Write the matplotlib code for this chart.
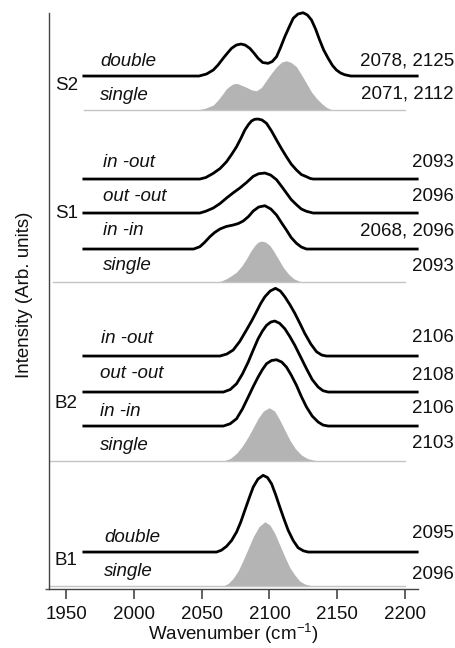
import matplotlib
matplotlib.use('Agg')
import matplotlib.pyplot as plt

plt.rcParams['font.family'] = ['Liberation Sans', 'DejaVu Sans']
plt.rcParams['mathtext.fontset'] = 'custom'
plt.rcParams['mathtext.rm'] = 'Liberation Sans'

# traces: wavenumber (cm-1) and height above the trace baseline
s2_double_w = [1963, 2048, 2053.5, 2058.5, 2062, 2065.8, 2069, 2072, 2075.5, 2078.9, 2082, 2085.5,
               2088.5, 2091.6, 2095, 2099, 2102, 2105.2, 2108, 2111.3, 2114.5, 2117.5, 2121,
               2124.8, 2128, 2131, 2134, 2137, 2140, 2143.3, 2146.5, 2149.4, 2152.5, 2155.5,
               2160, 2209]
s2_double_h = [0, 0, 2, 6, 11, 17.7, 23, 27.7, 31, 32, 31, 27.7,
               23, 17.7, 13.5, 12.7, 14.5, 19.3, 28, 39.3, 49, 57.7, 62,
               63.3, 61, 56, 47, 36, 26, 17.7, 10.5, 6, 3, 1.3,
               0, 0]
s2_single_w = [1963, 2046, 2052, 2058.5, 2062, 2065.8, 2068, 2070.7, 2073, 2075.7, 2079, 2083,
               2087, 2090.4, 2094, 2097.8, 2101.5, 2105.2, 2109, 2112.5, 2116, 2119.9, 2123.5,
               2127.3, 2131, 2134.7, 2138.5, 2142, 2145, 2147, 2200]
s2_single_h = [0, 0, 1.5, 5, 10, 16.7, 21, 24, 26, 26.7, 25, 22.7,
               20, 19.3, 22.5, 30, 37, 43.3, 48, 49.3, 47.5, 43.3, 35.5,
               26.7, 18, 11.7, 6.5, 2.7, 0.8, 0, 0]

s1_inout_w = [1963, 2048.6, 2053, 2058.5, 2063.5, 2068.3, 2072, 2075.7, 2079, 2081.8, 2084.5,
              2086.7, 2089, 2091.6, 2094.5, 2097.8, 2101.5, 2105.2, 2109, 2112.5, 2116, 2119.9,
              2123.5, 2127.3, 2130, 2132.2, 2209]
s1_inout_h = [0, 0, 1.5, 5.7, 10.5, 17.3, 24.5, 32.3, 41, 49, 54.5,
              58, 59.7, 60, 59, 55.7, 48, 39, 30, 22.3, 15, 9,
              4.5, 2.3, 0.6, 0, 0]
s1_outout_w = [1963, 2048.6, 2053, 2058.5, 2063.5, 2068.3, 2073, 2078.1, 2083, 2088, 2092,
               2096.6, 2100.8, 2105.2, 2109, 2112.5, 2116, 2119.9, 2123.5, 2127.3, 2132.2, 2209]
s1_outout_h = [0, 0, 1.8, 5, 9.5, 15, 20, 25, 30.5, 36.7, 39.3,
               40, 38, 33.3, 26.5, 20, 13.5, 8.3, 4, 1.7, 0, 0]
s1_inin_w = [1963, 2044, 2048.6, 2052, 2056, 2059.5, 2063.4, 2068, 2073.2, 2077, 2080.6, 2084.5,
             2088, 2092, 2096.6, 2101, 2105.2, 2109, 2112.5, 2116, 2119.9, 2123.5, 2127.3, 2209]
s1_inin_h = [0, 0, 2.3, 6.5, 12.3, 16.5, 20, 22.5, 24, 25.5, 28, 32.5,
             38, 42, 43.3, 40, 34, 26, 19, 11.5, 5.7, 2, 0, 0]
s1_single_w = [1940.5, 2061, 2064.5, 2068.5, 2072, 2075.7, 2079.5, 2083, 2086, 2089.2, 2091.5,
               2094, 2097, 2100.2, 2103.3, 2106.4, 2110, 2113.8, 2118, 2122.4, 2127, 2200]
s1_single_h = [0, 0, 1, 3.5, 6.5, 10, 16, 23.3, 30.5, 36.7, 39.8,
               41, 40, 36.7, 30.5, 23.3, 15, 8.3, 3.2, 0.7, 0, 0]

b2_inout_w = [1963, 2063.4, 2068.5, 2073.2, 2078, 2083, 2087, 2090.4, 2093.5, 2096.6, 2100.5,
              2104.4, 2108, 2111.3, 2115, 2118.7, 2122.5, 2126, 2130.5, 2134.7, 2138.5, 2142,
              2209]
b2_inout_h = [0, 0, 2, 6, 14.5, 26, 35.5, 44.3, 52.5, 59.3, 65,
              67.7, 65, 59.3, 51.5, 42.7, 32.5, 22.7, 12, 4.3, 1, 0,
              0]
b2_outout_w = [1963, 2066, 2071, 2075.7, 2080, 2084.3, 2088, 2091.6, 2094.8, 2097.8, 2101,
               2103.9, 2107.5, 2111.3, 2115, 2118.7, 2123, 2127.3, 2131.5, 2135.9, 2139.5,
               2143.3, 2209]
b2_outout_h = [0, 0, 2.5, 8.3, 18, 30, 42, 53.3, 61, 66.7, 70,
               71, 68.7, 63.3, 55.5, 46.7, 35, 23.3, 12.5, 5, 1.3,
               0, 0]
b2_inin_w = [1963, 2066, 2071, 2075.7, 2080, 2084.3, 2088, 2091.6, 2094.8, 2097.8, 2101.5,
             2105.2, 2109, 2112.5, 2116, 2119.9, 2123.5, 2127.3, 2131.5, 2135.9, 2139.5,
             2143.3, 2209]
b2_inin_h = [0, 0, 2.3, 7.3, 17, 29, 39.5, 49, 56.5, 62.3, 65.5,
             66.3, 64, 59, 51, 40.7, 29.5, 19, 10, 4, 1,
             0, 0]
b2_single_w = [1938, 2065.8, 2071, 2075.7, 2080, 2084.3, 2088, 2091.6, 2095.5, 2099.8, 2103.8,
               2107.6, 2111.3, 2115, 2119, 2123.6, 2128, 2132.2, 2137, 2200]
b2_single_h = [0, 0, 2.5, 7.7, 15, 24.3, 33.5, 42.7, 50, 53.3, 50,
               41, 31, 21, 12.5, 6, 2.5, 1, 0, 0]

b1_double_w = [1963, 2060.9, 2064.5, 2068.3, 2072, 2075.7, 2078.8, 2081.8, 2085, 2088, 2091.5,
               2095.3, 2098.5, 2101.5, 2104.5, 2107.6, 2110.7, 2113.8, 2117.5, 2121.1, 2125,
               2128.5, 2209]
b1_double_h = [0, 0, 1.8, 5.7, 11.5, 20, 30, 41.7, 54, 65, 73,
               76.7, 74.5, 68.3, 57.5, 45, 33, 21.7, 11.5, 4.3, 1.2,
               0, 0]
b1_single_w = [1938, 2065.8, 2069.5, 2073.2, 2077, 2080.6, 2084.3, 2088, 2092.3, 2096.6, 2100.3,
               2103.9, 2107.6, 2111.3, 2115, 2118.7, 2122.3, 2126, 2132.2, 2200]
b1_single_h = [0, 0, 2.5, 7.7, 15.5, 26, 37.5, 49.3, 59.5, 64.3, 61,
               52.7, 41, 29.3, 18.5, 11, 5, 2, 0, 0]

# baselines (arb. units)
line_traces = [(s2_double_w, s2_double_h, 513),
               (s1_inout_w, s1_inout_h, 410),
               (s1_outout_w, s1_outout_h, 376),
               (s1_inin_w, s1_inin_h, 340),
               (b2_inout_w, b2_inout_h, 233),
               (b2_outout_w, b2_outout_h, 197),
               (b2_inin_w, b2_inin_h, 163),
               (b1_double_w, b1_double_h, 37)]
fill_traces = [(s2_single_w, s2_single_h, 479),
               (s1_single_w, s1_single_h, 307),
               (b2_single_w, b2_single_h, 128),
               (b1_single_w, b1_single_h, 3)]

# text labels
trace_names = ['double', 'single',
               'in -out', 'out -out', 'in -in', 'single',
               'in -out', 'out -out', 'in -in', 'single',
               'double', 'single']
trace_name_y = [528, 494, 427, 393, 359, 324, 251, 216, 178, 144, 52, 18]
trace_name_x = [1975, 1975, 1977, 1977, 1977, 1977, 1976, 1975, 1975, 1975, 1978, 1978]
peak_labels = ['2078, 2125', '2071, 2112',
               '2093', '2096', '2068, 2096', '2093',
               '2106', '2108', '2106', '2103',
               '2095', '2096']
peak_label_y = [528, 495, 427, 393, 358, 323, 252, 214, 181, 146, 56, 15]
groups = ['S2', 'S1', 'B2', 'B1']
group_y = [504, 376, 186, 29]

fig = plt.figure(figsize=(4.56, 6.48), dpi=100)
ax = fig.add_axes([0.1081, 0.0910, 0.8086, 0.8889])

for w, h, base in fill_traces:
    y = [base + v for v in h]
    ax.fill_between(w, base, y, color='#b4b4b4', lw=0)
    ax.plot([w[0], w[-1]], [base, base], color='#c4c4c4', lw=1)

for w, h, base in line_traces:
    y = [base + v for v in h]
    ax.plot(w, y, color='black', lw=2.0, solid_joinstyle='round', clip_on=False)

fs = 13.5
for x, y, s in zip(trace_name_x, trace_name_y, trace_names):
    ax.text(x, y, s, style='italic', fontsize=fs, ha='left', va='center', color='#111111')
for y, s in zip(peak_label_y, peak_labels):
    ax.text(2236, y, s, fontsize=fs, ha='right', va='center', color='#111111')
for y, s in zip(group_y, groups):
    ax.text(1941.5, y, s, fontsize=fs, ha='left', va='center', color='#111111')

ax.set_xlim(1937.5, 2209.6)
ax.set_ylim(0, 576)
ax.set_xticks([1950, 2000, 2050, 2100, 2150, 2200])
ax.set_yticks([0])
ax.set_yticklabels([])
ax.tick_params(axis='x', direction='out', length=7, width=1.3, color='#555555',
               labelsize=fs, pad=5, labelcolor='#111111')
ax.tick_params(axis='y', direction='out', length=3, width=1, color='#555555')
for side in ['top', 'right']:
    ax.spines[side].set_visible(False)
for side in ['left', 'bottom']:
    ax.spines[side].set_color('#444444')
    ax.spines[side].set_linewidth(1)

ax.set_xlabel(r'Wavenumber (cm$^{\mathregular{-1}}$)', fontsize=fs, labelpad=-1, color='#111111')
ax.set_ylabel('Intensity (Arb. units)', fontsize=fs, color='#111111')
ax.yaxis.set_label_coords(-0.044, 0.51)

plt.savefig('out.png', dpi=100)
